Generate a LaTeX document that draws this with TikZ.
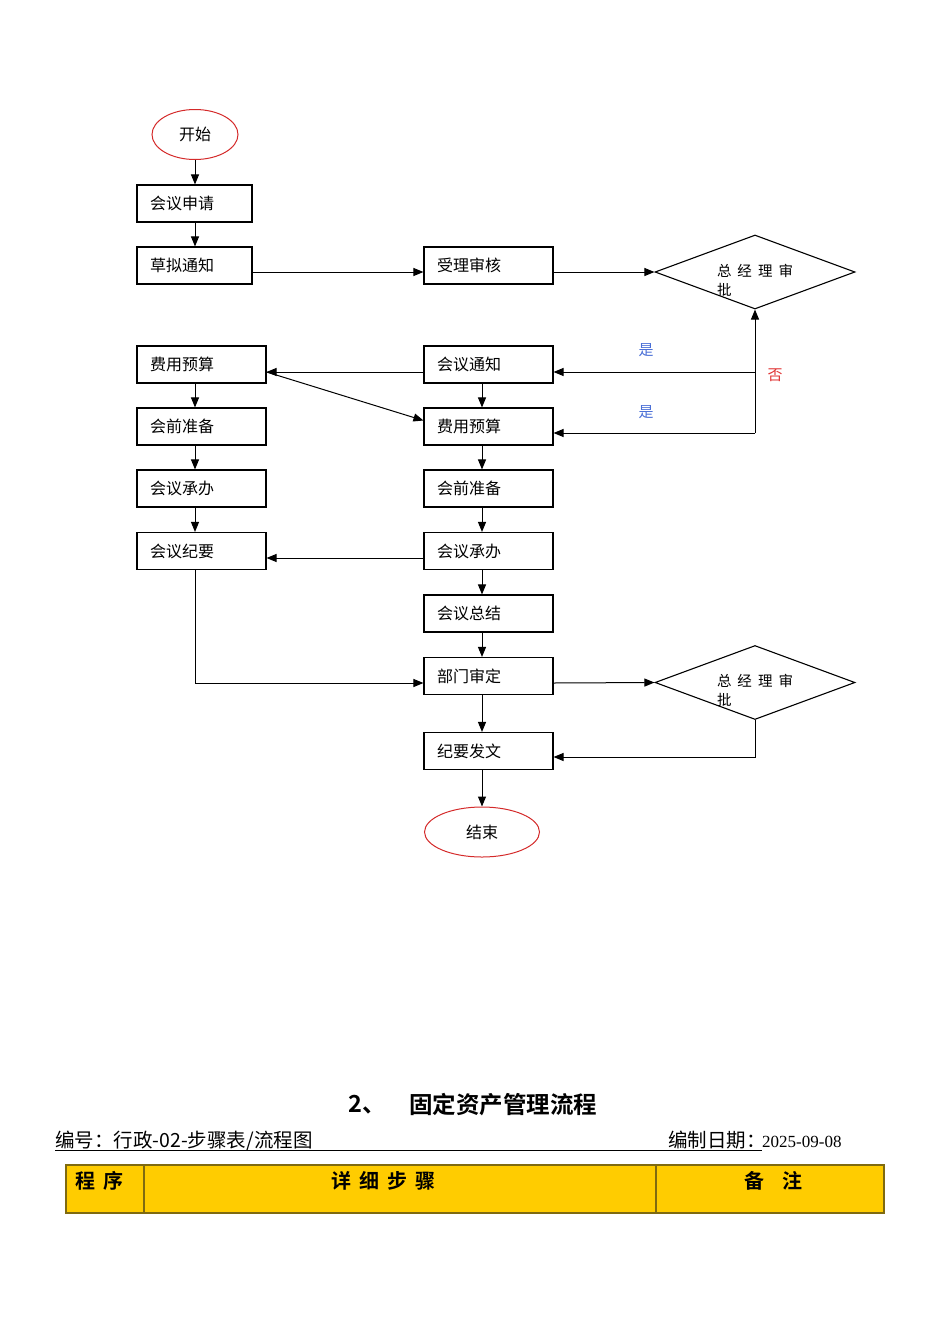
\documentclass[tikz,border=0pt]{standalone}
\usepackage{fontspec}
\setmainfont{Noto Sans CJK SC}[BoldFont={Noto Sans CJK SC Bold}]
\newfontfamily\latinserif{Liberation Serif}
\usepackage{xcolor}
\usepackage{tikz}
\usetikzlibrary{arrows.meta, positioning, calc, shapes.geometric}
\definecolor{termred}{HTML}{D42A2A}
\definecolor{yesblue}{HTML}{4A6FD6}
\definecolor{nored}{HTML}{E03434}
\definecolor{tableyellow}{HTML}{FFCC00}
\definecolor{tableline}{HTML}{7F6A10}
\tikzset{
  stepbox/.style={draw, rectangle, line width=1.1pt, minimum height=37pt, inner xsep=13pt, inner ysep=0pt, align=left, font=\fontsize{16}{19}\selectfont},
  narrowbox/.style={stepbox, text width=89pt},
  widebox/.style={stepbox, text width=103pt},
  terminal/.style={draw=termred, ellipse, line width=1pt, inner sep=0pt, font=\fontsize{16}{19}\selectfont},
  decision/.style={draw, diamond, aspect=2.7, line width=1.1pt, minimum width=200pt, minimum height=74pt, inner sep=0pt},
  decisiontext/.style={inner sep=0pt, text width=76pt, align=left, font=\fontsize{14.5}{19}\selectfont},
  flow/.style={-{Triangle[length=10pt,width=8pt]}, line width=1pt},
  yes/.style={text=yesblue, font=\fontsize{15}{18}\selectfont},
  no/.style={text=nored, font=\fontsize{15}{18}\selectfont},
  titlefont/.style={inner sep=0pt, font=\bfseries\fontsize{23.5}{28}\selectfont},
  headfont/.style={inner sep=0pt, font=\fontsize{19.5}{23}\selectfont},
  headbold/.style={inner sep=0pt, font=\bfseries\fontsize{20}{24}\selectfont},
  cell/.style={draw=tableline, fill=tableyellow, line width=1.2pt, minimum height=48pt, inner sep=0pt}
}
\newcommand{\gapw}[1]{\hspace{#1pt}}
\begin{document}
\begin{tikzpicture}[x=1pt, y=-1pt]
    \useasboundingbox (0,0) rectangle (950,1344);
    \coordinate (colL) at (195,0);
    \coordinate (colR) at (482,0);
    \coordinate (r1) at (0,272);
    \coordinate (r2) at (0,372);
    \coordinate (r3) at (0,433);
    \coordinate (r4) at (0,558);
    \coordinate (r5) at (0,683);
    \coordinate (r6) at (0,757);

    \node(start) at (195,134.5) [terminal, minimum width=86pt, minimum height=50pt] {开始};
    \node(shenqing) at (194.5,203.5) [narrowbox] {会议申请};
    \node(caoni) at (194.5,265.5) [narrowbox] {草拟通知};
    \node(shouli) at (488.5,265.5) [widebox] {受理审核};
    \node(zjl1) at (755,272) [decision] {};
    \node(zjl1txt) at ($(zjl1)+(0,8)$) [decisiontext] {总\gapw6经\gapw6理\gapw6审\\批};

    \node(feiyongL) at (201.5,364.5) [widebox] {费用预算};
    \node(huiqianL) at (201.5,426.5) [widebox] {会前准备};
    \node(chengbanL) at (201.5,488.5) [widebox] {会议承办};
    \node(jiyaoL) at (201.5,551) [widebox] {会议纪要};

    \node(tongzhiR) at (488.5,364.5) [widebox] {会议通知};
    \node(feiyongR) at (488.5,426.5) [widebox] {费用预算};
    \node(huiqianR) at (488.5,488.5) [widebox] {会前准备};
    \node(chengbanR) at (488.5,551) [widebox] {会议承办};
    \node(zongjie) at (488.5,613.5) [widebox] {会议总结};
    \node(shending) at (488.5,676) [widebox] {部门审定};
    \node(fawen) at (488.5,751) [widebox] {纪要发文};
    \node(end) at (482,832) [terminal, minimum width=115pt, minimum height=50pt] {结束};
    \node(zjl2) at (755,682.5) [decision] {};
    \node(zjl2txt) at ($(zjl2)+(0,8)$) [decisiontext] {总\gapw6经\gapw6理\gapw6审\\批};

    \node(shi1) at (646,350) [yes] {是};
    \node(shi2) at (646,412) [yes] {是};
    \node(fou) at (775,375) [no] {否};

    \draw[flow] (start.south) -- (shenqing.north -| colL);
    \draw[flow] (shenqing.south -| colL) -- (caoni.north -| colL);
    \draw[flow] (caoni.east |- r1) -- (shouli.west |- r1);
    \draw[flow] (shouli.east |- r1) -- (zjl1.west);
    \draw[flow] (zjl1.south |- r3) -- (zjl1.south);
    \draw[flow] (zjl1.south |- r2) -- (tongzhiR.east |- r2);
    \draw[flow] (zjl1.south |- r3) -- (feiyongR.east |- r3);
    \draw[flow] (tongzhiR.west |- r2) -- (feiyongL.east |- r2);
    \draw[flow] (feiyongL.east |- r2) -- ($(feiyongR.west)+(0,-6)$);
    \foreach \a/\b in {feiyongL/huiqianL, huiqianL/chengbanL, chengbanL/jiyaoL}
      \draw[flow] (\a.south -| colL) -- (\b.north -| colL);
    \foreach \a/\b in {tongzhiR/feiyongR, feiyongR/huiqianR, huiqianR/chengbanR, chengbanR/zongjie, zongjie/shending, shending/fawen}
      \draw[flow] (\a.south -| colR) -- (\b.north -| colR);
    \draw[flow] (chengbanR.west |- r4) -- (jiyaoL.east |- r4);
    \draw[flow] (jiyaoL.south -| colL) |- (shending.west |- r5);
    \draw[flow] (shending.east |- r5) -- (zjl2.west);
    \draw[flow] (zjl2.south) |- (fawen.east |- r6);
    \draw[flow] (fawen.south -| colR) -- (end.north);

    \node(title2) at (348,1105) [anchor=west, titlefont] {2、};
    \node(title) at (409,1105) [anchor=west, titlefont] {固定资产管理流程};
    \node(bianhao) at (55,1147) [anchor=base west, headfont] {编号：行政-02-步骤表/流程图};
    \node(riqi) at (668,1147) [anchor=base west, headfont] {编制日期：};
    \node(date) at (762,1147) [anchor=base west, inner sep=0pt, font=\latinserif\fontsize{17}{20}\selectfont] {2025-09-08};
    \coordinate (ulA) at (55,1150.5);
    \coordinate (ulB) at (762,1150.5);
    \draw[line width=0.8pt] (ulA) -- (ulB);

    \node(cellA) at (105,1189) [cell, minimum width=78pt] {};
    \node(cellB) at (400,1189) [cell, minimum width=512pt] {};
    \node(cellC) at (770,1189) [cell, minimum width=228pt] {};
    \node(chengxu) at (75,1181) [anchor=west, headbold] {程\gapw8序};
    \node(buzhou) at (383,1181) [headbold] {详\gapw8细\gapw8步\gapw8骤};
    \node(beizhu) at (773,1181) [headbold] {备\gapw{18}注};
\end{tikzpicture}
\end{document}
